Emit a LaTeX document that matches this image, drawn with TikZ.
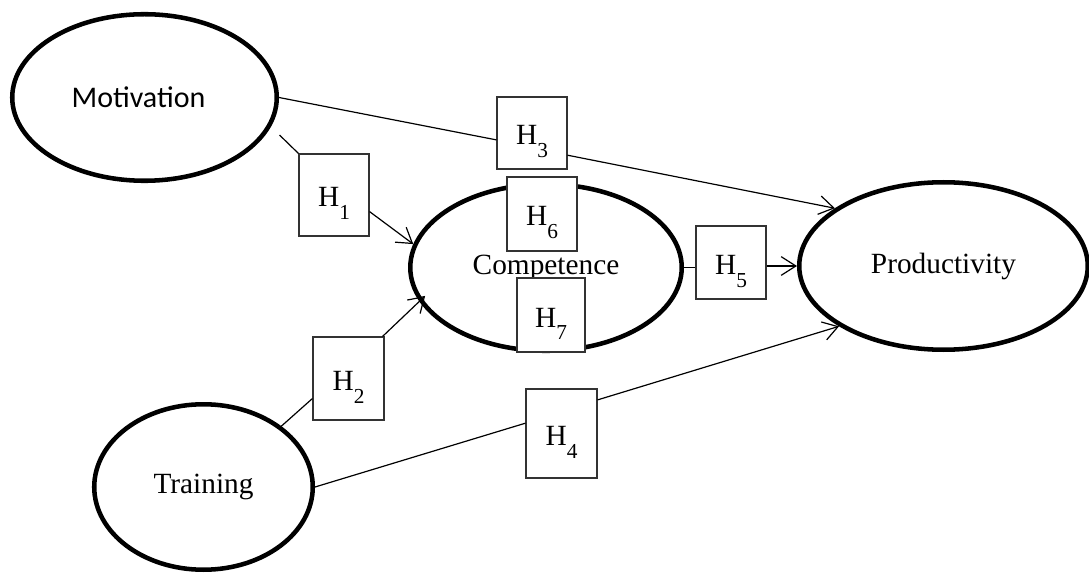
\documentclass[tikz,border=0pt]{standalone}
\usepackage{fontspec}
\setmainfont{Liberation Serif}
\newfontfamily\calibri{Carlito}
\usetikzlibrary{arrows.meta,shapes.geometric}
\newcommand{\hname}[1]{H\raisebox{-9.5pt}{\fontsize{16}{16}\selectfont #1}}

\begin{document}
\begin{tikzpicture}[x=0.75pt,y=-0.75pt,font=\fontsize{22}{26}\selectfont,
    latent/.style={ellipse,draw,line width=3.4pt,inner sep=0pt},
    hyp/.style={draw=black!80,fill=white,line width=0.8pt,inner sep=0pt,
        minimum width=52.5pt,text height=20pt,text depth=2pt},
    conn/.style={line width=0.9pt},
    >={Straight Barb[length=11pt,width=14pt]}]
    \useasboundingbox (0,0) rectangle (1089,574);
    % Constructs
    \node[latent,minimum width=198.4pt,minimum height=124.9pt] (mot) at (144.5,97.5) {\calibri\fontsize{22.5}{27}\selectfont Motivation\hspace*{9pt}};
    \node[latent,minimum width=203.6pt,minimum height=124.9pt] (comp) at (546,267.5) {Competence};
    \node[latent,minimum width=216.4pt,minimum height=125.6pt] (prod) at (943.5,266) {Productivity};
    \node[latent,minimum width=163.9pt,minimum height=124.1pt] (train) at (203.5,487) {Training};
    % Hypotheses
    \node[hyp,minimum height=61.5pt] (h1) at (334,195) {\hname{1}};
    \node[hyp,minimum height=62.25pt,minimum width=53.25pt] (h2) at (348.5,378.5) {\hname{2}};
    \node[hyp,minimum height=54pt] (h3) at (532,133) {\hname{3}};
    \node[hyp,minimum height=66.75pt,minimum width=53.25pt] (h4) at (561.5,433.5) {\hname{4}};
    \node[hyp,minimum height=54.75pt] (h5) at (731,262.5) {\hname{5}};
    \node[hyp,minimum height=55.5pt] (h6) at (542,214) {\hname{6}};
    \node[hyp,minimum height=55.5pt,minimum width=51pt] (h7) at (551,315) {\hname{7}};
    % Paths
    \draw[conn,shorten <=9pt] (mot.-13) -- (h1.north west);
    \draw[conn,->] (h1.-25) -- (comp.170);
    \draw[conn] (mot.east) -- (h3.191);
    \draw[conn,->] (h3.-32) -- (prod.152);
    \draw[conn] (comp.east) -- (comp.east -| h5.west);
    \draw[conn,->] (h5.east |- prod.west) -- (prod.west);
    \draw[conn] (train.38) -- (h2.209);
    \draw[conn,->,shorten >=-6pt] (h2.51) -- (comp.195);
    \draw[conn] (train.east) -- (h4.164);
    \draw[conn,->] (h4.43) -- (prod.210);
\end{tikzpicture}
\end{document}
